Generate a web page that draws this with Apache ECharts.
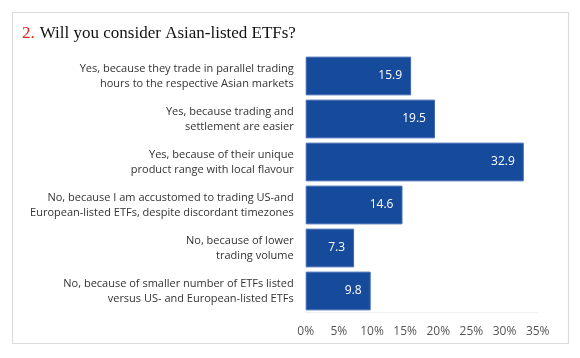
<!DOCTYPE html>
<html><head><meta charset="utf-8">
<script src="https://cdn.jsdelivr.net/npm/echarts@6/dist/echarts.min.js"></script>
<style>html,body{margin:0;padding:0;background:#fff}#c{width:580px;height:358px}</style>
</head><body><div id="c"></div>
<script>
const categories = [
  "Yes, because they trade in parallel trading\nhours to the respective Asian markets",
  "Yes, because trading and\nsettlement are easier",
  "Yes, because of their unique\nproduct range with local flavour",
  "No, because I am accustomed to trading US-and\nEuropean-listed ETFs, despite discordant timezones",
  "No, because of lower\ntrading volume",
  "No, because of smaller number of ETFs listed\nversus US- and European-listed ETFs"
];
const values = [15.9, 19.5, 32.9, 14.6, 7.3, 9.8];
const xTicks = [0, 5, 10, 15, 20, 25, 30, 35];

const chart = echarts.init(document.getElementById('c'));
chart.setOption({
  animation: false,
  graphic: [{
    type: 'rect', shape: {x: 12.5, y: 12.5, width: 556, height: 331},
    style: {fill: 'none', stroke: '#dcdcdc', lineWidth: 1.2}
  }],
  title: {
    text: '{r|2.} {b|Will you consider Asian-listed ETFs?}',
    left: 17, top: 20,
    textStyle: {
      rich: {
        r: {color: '#e2231a', fontFamily: 'Liberation Serif', fontSize: 17, fontWeight: 'normal'},
        b: {color: '#111', fontFamily: 'Liberation Serif', fontSize: 17, fontWeight: 'normal'}
      }
    }
  },
  grid: {left: 305.7, right: 580 - 537.7, top: 54.5, bottom: 358 - 312.5, containLabel: false},
  xAxis: {
    type: 'value', min: 0, max: 35, interval: 5,
    axisLine: {show: true, lineStyle: {color: '#efefef'}},
    axisTick: {show: false},
    splitLine: {show: false},
    axisLabel: {
      formatter: v => xTicks.includes(v) ? v + '%' : '',
      color: '#555', fontFamily: 'Open Sans', fontSize: 12, margin: 13
    }
  },
  yAxis: {
    type: 'category', inverse: true, data: categories,
    axisLine: {show: false}, axisTick: {show: false},
    axisLabel: {
      color: '#333', fontFamily: 'Open Sans', fontSize: 11, lineHeight: 15, margin: 12, align: 'right'
    }
  },
  series: [{
    type: 'bar', data: values, barCategoryGap: '10%',
    itemStyle: {color: '#164a9b', borderColor: '#3d67b3', borderWidth: 1},
    label: {
      show: true, position: 'insideRight', distance: 9,
      color: '#fff', fontFamily: 'Open Sans', fontSize: 12,
      formatter: p => p.value.toFixed(1)
    }
  }]
});
</script></body></html>
